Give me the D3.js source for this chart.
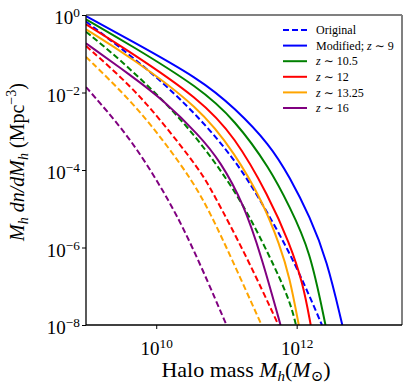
<!DOCTYPE html>
<html>
<head>
<meta charset="utf-8">
<script src="https://cdn.jsdelivr.net/npm/d3@7"></script>
<style>
  body { margin: 0; background: #fff; }
  svg text { font-family: "Liberation Serif", "DejaVu Serif", serif; fill: #000; }
</style>
</head>
<body>
<script>
// log10 halo mass / log10 (Mh dn/dMh)
var modZ9M = [9.00, 9.63, 10.62, 11.12, 11.62, 11.90, 12.19, 12.43, 12.65];
var modZ9N = [-0.03, -0.65, -1.65, -2.40, -3.35, -4.18, -5.21, -6.32, -8.00];
var origZ9M = [9.00, 9.91, 10.62, 11.12, 11.45, 11.90, 12.19, 12.36];
var origZ9N = [-0.17, -1.42, -2.65, -3.74, -4.67, -6.12, -7.28, -8.00];

var modZ105M = [9.00, 9.63, 10.62, 11.12, 11.62, 11.90, 12.19, 12.41];
var modZ105N = [-0.11, -0.77, -1.88, -2.71, -3.96, -4.95, -6.06, -8.00];
var origZ105M = [9.00, 9.44, 10.10, 10.62, 11.19, 11.62, 11.90, 11.99];
var origZ105N = [-0.43, -1.08, -2.19, -3.25, -4.70, -6.24, -7.35, -8.00];

var modZ12M = [9.00, 9.63, 10.62, 11.12, 11.60, 11.90, 12.09, 12.20];
var modZ12N = [-0.24, -0.95, -2.17, -3.14, -4.67, -5.89, -6.92, -8.00];
var origZ12M = [9.00, 9.63, 10.10, 10.62, 10.79, 11.29, 11.74];
var origZ12N = [-0.80, -1.81, -2.79, -4.00, -4.52, -6.24, -8.00];

var modZ1325M = [9.00, 9.63, 10.62, 11.12, 11.52, 11.76, 11.90, 12.03];
var modZ1325N = [-0.37, -1.08, -2.39, -3.57, -4.83, -5.94, -6.76, -8.00];
var origZ1325M = [9.00, 9.63, 10.10, 10.54, 10.79, 11.05, 11.50];
var origZ1325N = [-1.08, -2.19, -3.23, -4.34, -5.19, -6.19, -8.00];

var modZ16M = [9.00, 9.63, 10.10, 10.62, 10.91, 11.24, 11.50, 11.77];
var modZ16N = [-0.73, -1.55, -2.19, -3.12, -3.77, -4.85, -6.24, -8.00];
var origZ16M = [9.00, 9.16, 9.63, 10.10, 10.48, 11.00];
var origZ16N = [-1.86, -2.19, -3.18, -4.52, -5.81, -8.00];

var xTickExps = [10, 12];
var yTickExps = [0, -2, -4, -6, -8];

var chartWidth = 415;
var chartHeight = 389;
var margin = {top: 15, right: 13, bottom: 64, left: 86};
var width = chartWidth - margin.left - margin.right;
var height = chartHeight - margin.top - margin.bottom;

var series = [
  {m: origZ9M, n: origZ9N, color: "blue", dash: true},
  {m: modZ9M, n: modZ9N, color: "blue", dash: false},
  {m: origZ105M, n: origZ105N, color: "green", dash: true},
  {m: modZ105M, n: modZ105N, color: "green", dash: false},
  {m: origZ12M, n: origZ12N, color: "red", dash: true},
  {m: modZ12M, n: modZ12N, color: "red", dash: false},
  {m: origZ1325M, n: origZ1325N, color: "orange", dash: true},
  {m: modZ1325M, n: modZ1325N, color: "orange", dash: false},
  {m: origZ16M, n: origZ16N, color: "purple", dash: true},
  {m: modZ16M, n: modZ16N, color: "purple", dash: false}
];

var legendItems = [
  {label: "Original", z: null, color: "blue", dash: true},
  {label: "Modified; ", z: "9", color: "blue", dash: false},
  {label: "", z: "10.5", color: "green", dash: false},
  {label: "", z: "12", color: "red", dash: false},
  {label: "", z: "13.25", color: "orange", dash: false},
  {label: "", z: "16", color: "purple", dash: false}
];

var xScale = d3.scaleLog()
               .domain([1e9, Math.pow(10, 13.5)])
               .range([0, width]);

var yScale = d3.scaleLog()
               .domain([1e-8, 1])
               .range([height, 0]);

var svg = d3.select("body")
            .append("svg")
            .attr("width", chartWidth)
            .attr("height", chartHeight);

svg.append("defs").append("clipPath")
   .attr("id", "plot-clip")
   .append("rect")
   .attr("width", width)
   .attr("height", height);

var chartGroup = svg.append("g")
                    .attr("transform", "translate(" + margin.left + "," + margin.top + ")");

var line = d3.line()
             .x(function(d) { return xScale(Math.pow(10, d[0])); })
             .y(function(d) { return yScale(Math.pow(10, d[1])); })
             .curve(d3.curveBasis);

chartGroup.append("g")
          .attr("clip-path", "url(#plot-clip)")
          .selectAll("path")
          .data(series)
          .enter()
          .append("path")
          .attr("d", function(s) { return line(d3.zip(s.m, s.n)); })
          .attr("fill", "none")
          .attr("stroke", function(s) { return s.color; })
          .attr("stroke-width", 2)
          .attr("stroke-dasharray", function(s) { return s.dash ? "6,3" : null; });

function powerLabel(sel) {
  sel.each(function(e) {
    var t = d3.select(this);
    t.text(null);
    t.append("tspan").text("10");
    t.append("tspan")
     .attr("dy", "-0.5em")
     .attr("font-size", "0.7em")
     .text(String(e).replace("-", "\u2212"));
  });
}

var xAxis = chartGroup.append("g")
          .attr("transform", "translate(0," + height + ")")
          .call(d3.axisBottom(xScale)
                  .tickValues(xTickExps.map(function(e) { return Math.pow(10, e); }))
                  .tickSizeInner(4)
                  .tickSizeOuter(0)
                  .tickPadding(8));
xAxis.select(".domain").remove();
xAxis.selectAll("text")
     .data(xTickExps)
     .attr("font-size", 19)
     .attr("dy", "0.95em")
     .call(powerLabel);

var yAxis = chartGroup.append("g")
          .call(d3.axisLeft(yScale)
                  .tickValues(yTickExps.map(function(e) { return Math.pow(10, e); }))
                  .tickSizeInner(4)
                  .tickSizeOuter(0)
                  .tickPadding(2));
yAxis.select(".domain").remove();
yAxis.selectAll("text")
     .data(yTickExps)
     .attr("font-size", 19)
     .attr("dy", "0.45em")
     .call(powerLabel);

// frame: left/bottom black, top/right grey
chartGroup.append("line").attr("x1", 0).attr("x2", width).attr("y1", 0).attr("y2", 0)
          .attr("stroke", "#808080").attr("stroke-width", 2);
chartGroup.append("line").attr("x1", width).attr("x2", width).attr("y1", 0).attr("y2", height)
          .attr("stroke", "#808080").attr("stroke-width", 2);
chartGroup.append("line").attr("x1", 0).attr("x2", 0).attr("y1", 0).attr("y2", height)
          .attr("stroke", "#000").attr("stroke-width", 1.3);
chartGroup.append("line").attr("x1", 0).attr("x2", width).attr("y1", height).attr("y2", height)
          .attr("stroke", "#000").attr("stroke-width", 1.3);

// axis labels
var xLabel = chartGroup.append("text")
          .attr("text-anchor", "middle")
          .attr("x", width / 2 + 2)
          .attr("y", height + 52)
          .attr("font-size", 22);
xLabel.append("tspan").text("Halo mass ");
xLabel.append("tspan").attr("font-style", "italic").text("M");
xLabel.append("tspan").attr("font-style", "italic").attr("font-size", 15).attr("dy", 4).text("h");
xLabel.append("tspan").attr("dy", -4).text("(");
xLabel.append("tspan").attr("font-style", "italic").text("M");
xLabel.append("tspan").attr("font-size", 15).attr("dy", 4).text("\u2299");
xLabel.append("tspan").attr("dy", -4).text(")");

var yLabel = chartGroup.append("text")
          .attr("text-anchor", "middle")
          .attr("transform", "translate(-62," + (height / 2 - 8) + ") rotate(-90)")
          .attr("font-size", 20);
yLabel.append("tspan").attr("font-style", "italic").text("M");
yLabel.append("tspan").attr("font-style", "italic").attr("font-size", 14).attr("dy", 4).text("h");
yLabel.append("tspan").attr("font-style", "italic").attr("dy", -4).text(" dn/dM");
yLabel.append("tspan").attr("font-style", "italic").attr("font-size", 14).attr("dy", 4).text("h");
yLabel.append("tspan").attr("dy", -4).text(" (Mpc");
yLabel.append("tspan").attr("font-size", 14).attr("dy", -8).text("\u22123");
yLabel.append("tspan").attr("dy", 8).text(")");

// legend
var legend = chartGroup.append("g")
          .attr("transform", "translate(197,15)");

var rows = legend.selectAll("g")
          .data(legendItems)
          .enter()
          .append("g")
          .attr("transform", function(d, i) { return "translate(0," + (i * 15.6) + ")"; });

rows.append("line")
    .attr("x1", 0).attr("x2", 24)
    .attr("stroke", function(d) { return d.color; })
    .attr("stroke-width", 2)
    .attr("stroke-dasharray", function(d) { return d.dash ? "6,3" : null; });

rows.append("text")
    .attr("x", 33)
    .attr("dy", "0.35em")
    .attr("font-size", 12)
    .each(function(d) {
      var t = d3.select(this);
      if (d.label) t.append("tspan").text(d.label);
      if (d.z) {
        t.append("tspan").attr("font-style", "italic").text("z");
        t.append("tspan").text(" \u223C " + d.z);
      }
    });
</script>
</body>
</html>
